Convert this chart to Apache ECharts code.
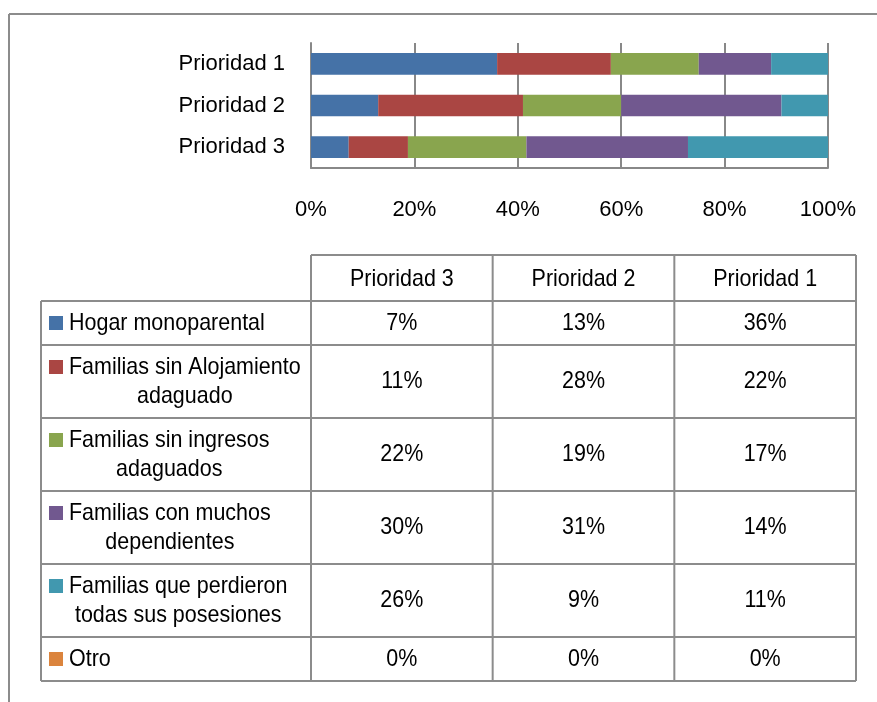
<!DOCTYPE html>
<html><head><meta charset="utf-8">
<script src="https://cdn.jsdelivr.net/npm/echarts@6/dist/echarts.min.js"></script>
<style>html,body{margin:0;padding:0;background:#fff}#c{width:877px;height:702px}</style>
</head><body><div id="c"></div>
<script>
// ---- data ----
const categories = ['Prioridad 3', 'Prioridad 2', 'Prioridad 1'];
const seriesNames = [
  'Hogar monoparental',
  'Familias sin Alojamiento\nadaguado',
  'Familias sin ingresos\nadaguados',
  'Familias con muchos\ndependientes',
  'Familias que perdieron\ntodas sus posesiones',
  'Otro'
];
const hogarMonoparental   = [7, 13, 36];
const sinAlojamiento      = [11, 28, 22];
const sinIngresos         = [22, 19, 17];
const muchosDependientes  = [30, 31, 14];
const perdieronPosesiones = [26, 9, 11];
const otro                = [0, 0, 0];
const xTickValues = [0, 20, 40, 60, 80, 100];

// ---- styles ----
const seriesValues = [hogarMonoparental, sinAlojamiento, sinIngresos, muchosDependientes, perdieronPosesiones, otro];
const colors = ['#4572A7', '#AA4643', '#89A54E', '#71588F', '#4198AF', '#DB843D'];
const FONT = "'Liberation Sans', Arial, sans-serif";
const FS = 24;          // table font size
const SX = 0.895;       // horizontal condensing (narrow face look)
const AXFS = 22;        // axis label font size
const GRID = '#888888';

// 100% stacking
const totals = categories.map((_, i) => seriesValues.reduce((s, arr) => s + arr[i], 0));
const series = seriesValues.map((arr, k) => ({
  name: seriesNames[k].replace('\n', ' '),
  type: 'bar',
  stack: 'total',
  barWidth: '52%',
  itemStyle: { color: colors[k] },
  data: arr.map((v, i) => totals[i] ? v / totals[i] * 100 : 0)
}));

// text measuring
const cv = document.createElement('canvas').getContext('2d');
cv.font = FS + 'px ' + FONT;
function tw(s) { return cv.measureText(s).width; }

// ---- table ----
const g = [];
const lineStyle = { stroke: '#8c8c8c', lineWidth: 2 };
function hline(x1, x2, y) { g.push({ type: 'line', shape: { x1, y1: y, x2, y2: y }, style: lineStyle, silent: true }); }
function vline(x, y1, y2) { g.push({ type: 'line', shape: { x1: x, y1, x2: x, y2 }, style: lineStyle, silent: true }); }
function txt(text, x, y) {
  g.push({ type: 'text', x, y, scaleX: SX, originX: 0, originY: 0, silent: true, style: {
    text, fill: '#000', fontSize: FS, fontFamily: FONT, lineHeight: 29,
    align: 'center', verticalAlign: 'middle', textAlign: 'center', textVerticalAlign: 'middle'
  }});
}
const tLeft = 41, tCol = 311, colW = (856 - 311) / 3;
const headTop = 255, headBot = 301;
const rowH = seriesNames.map(n => n.includes('\n') ? 73 : 44);
const tBottom = headBot + rowH.reduce((a, b) => a + b, 0);

hline(tCol, tCol + 3 * colW, headTop);
let y = headBot;
hline(tLeft, tCol + 3 * colW, y);
categories.forEach((c, j) => txt(c, tCol + colW * (j + 0.5), (headTop + headBot) / 2 + 1));
seriesNames.forEach((name, k) => {
  const h = rowH[k];
  const cy = y + h / 2;
  const lines = name.split('\n');
  const maxW = Math.max(...lines.map(tw)) * SX;
  const firstY = cy - (lines.length - 1) * 14.5;
  g.push({ type: 'rect', shape: { x: 49, y: firstY - 7, width: 14, height: 14 }, style: { fill: colors[k] }, silent: true });
  txt(name, 69 + maxW / 2, cy);
  categories.forEach((c, j) => txt(seriesValues[k][j] + '%', tCol + colW * (j + 0.5), cy));
  y += h;
  hline(tLeft, tCol + 3 * colW, y);
});
vline(tLeft, headBot, tBottom);
for (let j = 0; j <= 3; j++) vline(tCol + j * colW, headTop, tBottom);

// outer frame
g.push({ type: 'line', shape: { x1: 9, y1: 14, x2: 877, y2: 14 }, style: { stroke: '#8c8c8c', lineWidth: 2 }, silent: true });
g.push({ type: 'line', shape: { x1: 9, y1: 14, x2: 9, y2: 702 }, style: { stroke: '#8c8c8c', lineWidth: 2 }, silent: true });

const chart = echarts.init(document.getElementById('c'), null, { renderer: 'canvas' });
chart.setOption({
  animation: false,
  backgroundColor: '#fff',
  grid: { left: 311, right: 49, top: 43, bottom: 702 - 168, containLabel: false },
  xAxis: {
    type: 'value', min: xTickValues[0], max: xTickValues[xTickValues.length - 1],
    interval: xTickValues[1] - xTickValues[0],
    axisLine: { show: true, lineStyle: { color: GRID, width: 2 } },
    axisTick: { show: false },
    splitLine: { show: true, lineStyle: { color: GRID, width: 2 } },
    axisLabel: { formatter: '{value}%', fontSize: AXFS, fontFamily: FONT, color: '#000', margin: 31 }
  },
  yAxis: {
    type: 'category', data: categories,
    axisLine: { show: true, lineStyle: { color: GRID, width: 2 } },
    axisTick: { show: false },
    splitLine: { show: false },
    axisLabel: { fontSize: AXFS, fontFamily: FONT, color: '#000', margin: 26 }
  },
  series,
  graphic: g
});
</script></body></html>
